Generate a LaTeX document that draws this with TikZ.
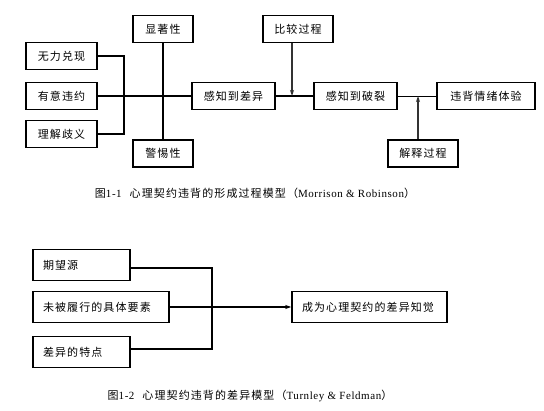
\documentclass[tikz,border=0pt]{standalone}
\usepackage{fontspec}
\setmainfont{Liberation Serif}
\newfontfamily\cjk[LetterSpace=10]{Noto Sans CJK SC}
\usetikzlibrary{arrows.meta,positioning}

\begin{document}
\begin{tikzpicture}[x=1pt,y=-1pt,
  box/.style={draw, line width=1.5pt, font=\cjk\fontsize{11}{13}\selectfont, inner sep=0pt, minimum height=27pt},
  lbox/.style={draw, line width=1.5pt, font=\cjk\fontsize{11}{13}\selectfont, inner xsep=10pt, inner ysep=0pt, align=left, minimum height=31pt},
  link/.style={line width=2pt},
  feed/.style={line width=1.2pt, draw=black!80, -{Stealth[length=6pt,width=4pt]}},
  figcap/.style={font=\fontsize{11}{13}\selectfont\addfontfeature{LetterSpace=5}}]
\useasboundingbox (0,0) rectangle (544,411);
% figure 1-1
\node[box, minimum width=60pt] (salient) at (163,29) {显著性};
\node[box, minimum width=71pt] (unable) at (61.5,56) {无力兑现};
\node[box, minimum width=71pt] (reneg) at (61.5,96) {有意违约};
\node[box, minimum width=71pt] (incong) at (61.5,134) {理解歧义};
\node[box, minimum width=60pt] (vigil) at (163,153.5) {警惕性};
\node[box, minimum width=83pt] (discrep) at (233.5,96) {感知到差异};
\node[box, minimum width=70pt] (compare) at (298,29) {比较过程};
\node[box, minimum width=83pt] (breach) at (355.5,96) {感知到破裂};
\node[box, minimum width=98pt] (violate) at (486,96) {违背情绪体验};
\node[box, minimum width=70pt] (interp) at (423,153.5) {解释过程};
\coordinate (brk) at (124,0);
\draw[link] (unable.east) -- (unable.east -| brk) -- (incong.east -| brk) -- (incong.east);
\draw[link] (reneg.east) -- (discrep.west);
\draw[link] (salient.south) -- (vigil.north);
\draw[link] (discrep.east) -- (breach.west);
\draw[line width=1pt] ([yshift=-0.5pt]breach.east) -- ([yshift=-0.5pt]violate.west);
\draw[feed] ([xshift=-6pt]compare.south) -- ([xshift=-6pt]compare.south |- discrep.east);
\draw[feed] ([xshift=-5pt]interp.north) -- ([xshift=-5pt]interp.north |- breach.east);
\node[figcap] (cap1) at (255,193) {{\cjk 图}1-1\hspace{8pt}{\cjk 心理契约违背的形成过程模型（}Morrison \& Robinson{\cjk ）}};
% figure 1-2
\node[lbox, text width=77pt] (source) at (81.5,265) {期望源};
\node[lbox, text width=116pt] (unmet) at (101,307) {未被履行的具体要素};
\node[lbox, text width=77pt] (feature) at (81.5,352) {差异的特点};
\node[lbox, text width=135pt] (percep) at (369.5,307) {成为心理契约的差异知觉};
\coordinate (brk2) at (212,0);
\draw[link] ([yshift=-3pt]source.east) -- ([yshift=-3pt]source.east -| brk2) -- ([yshift=3pt]feature.east -| brk2) -- ([yshift=3pt]feature.east);
\draw[link, -{Stealth[length=6pt,width=4pt]}] (unmet.east) -- (percep.west);
\node[figcap] (cap2) at (250,396) {{\cjk 图}1-2\hspace{8pt}{\cjk 心理契约违背的差异模型（}Turnley \& Feldman{\cjk ）}};
\end{tikzpicture}
\end{document}
